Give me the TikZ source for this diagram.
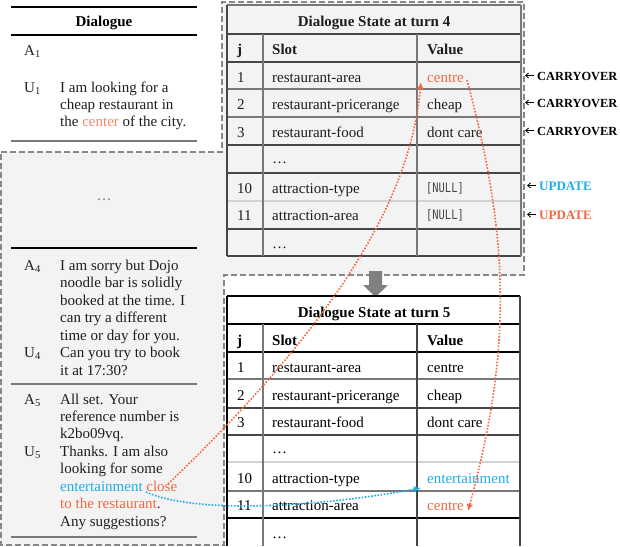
\documentclass[tikz,border=0pt]{standalone}
\usepackage{fontspec}
\setmainfont{Liberation Serif}
\newfontfamily\monof[FakeStretch=0.8]{DejaVu Sans Mono}
\usetikzlibrary{arrows.meta,calc}
\definecolor{bgray}{RGB}{243,243,243}
\definecolor{dashgray}{RGB}{135,135,135}
\definecolor{txtc}{RGB}{30,30,30}
\definecolor{orng}{RGB}{242,105,65}
\definecolor{lorng}{RGB}{245,135,108}
\definecolor{blu}{RGB}{30,175,230}
\definecolor{lnA}{RGB}{70,70,70}
\definecolor{lnB}{RGB}{120,120,120}
\definecolor{lnC}{RGB}{210,210,210}
\definecolor{bigarrow}{RGB}{128,128,128}
\tikzset{
  tx/.style={inner sep=0pt, anchor=base west, font=\fontsize{15}{17}\selectfont, text=txtc},
  txb/.style={inner sep=0pt, anchor=base west, font=\fontsize{15}{17}\selectfont\bfseries, text=black},
  lab/.style={inner sep=0pt, anchor=base west, font=\fontsize{13}{15}\selectfont\bfseries},
  labco/.style={inner sep=0pt, anchor=base west, font=\fontsize{12.4}{15}\selectfont\bfseries},
  nullv/.style={inner sep=0pt, anchor=base west, font=\monof\fontsize{13}{15}\selectfont, text=lnA},
  rowline/.style={line width=1.1pt},
  lblarrow/.style={line width=0.8pt, -{Straight Barb[length=3pt,width=5pt]}},
  orarrow/.style={draw=orng, line width=1.6pt, dash pattern=on 1.6pt off 1.6pt, -{Latex[length=7pt,width=6.5pt]}},
  blarrow/.style={draw=blu, line width=1.6pt, dash pattern=on 1.6pt off 1.6pt, -{Latex[length=7pt,width=6.5pt]}},
}
\begin{document}
\begin{tikzpicture}[x=1pt,y=-1pt]
\useasboundingbox (0,0) rectangle (620,546);
\fill[white] (0,0) rectangle (620,546);
% gray dashed region
\filldraw[fill=bgray, draw=dashgray, line width=1.8pt, dash pattern=on 6pt off 3pt]
  (1,152) -- (222,152) -- (222,2) -- (524,2) -- (524,275) -- (224,275) -- (224,545) -- (1,545) -- cycle;

% ---------- Dialogue (top) ----------
\draw[black, line width=1.5pt] (11,7) -- (197,7);
\node[txb, anchor=base] (dtitle) at (104,26) {Dialogue};
\draw[black, line width=1.1pt] (11,35) -- (197,35);
\node[tx] (a1) at (24,55) {A\textsubscript{1}};
\node[tx] (u1) at (24,92) {U\textsubscript{1}};
\node[tx] (u1l1) at (60,92) {I am looking for a};
\node[tx] (u1l2) at (60,109) {cheap restaurant in};
\node[tx] (u1l3) at (60,126) {the \textcolor{lorng}{center} of the city.};
\draw[lnB, line width=1.1pt] (11,141) -- (197,141);

% ---------- Dialogue (bottom) ----------
\node[tx, anchor=base, text=lnB] (ddots) at (104,200) {\ldots};
\draw[black, line width=1.1pt] (11,248) -- (197,248);
\node[tx] (a4) at (24,270) {A\textsubscript{4}};
\node[tx] (a4l1) at (60,270) {I am sorry but Dojo};
\node[tx] (a4l2) at (60,287.5) {noodle bar is solidly};
\node[tx] (a4l3) at (60,305) {booked at the time. I};
\node[tx] (a4l4) at (60,322.5) {can try a different};
\node[tx] (a4l5) at (60,340) {time or day for you.};
\node[tx] (u4) at (24,357) {U\textsubscript{4}};
\node[tx] (u4l1) at (60,357) {Can you try to book};
\node[tx] (u4l2) at (60,375) {it at 17:30?};
\draw[lnB, line width=1.1pt] (11,384) -- (197,384);
\node[tx] (a5) at (24,404) {A\textsubscript{5}};
\node[tx] (a5l1) at (60,404) {All set. Your};
\node[tx] (a5l2) at (60,421) {reference number is};
\node[tx] (a5l3) at (60,438) {k2bo09vq.};
\node[tx] (u5) at (24,456) {U\textsubscript{5}};
\node[tx] (u5l1) at (60,456) {Thanks. I am also};
\node[tx] (u5l2) at (60,473) {looking for some};
\node[tx] (u5l3) at (60,491) {\textcolor{blu}{entertainment} \textcolor{orng}{close}};
\node[tx] (u5l4) at (60,508.5) {\textcolor{orng}{to the restaurant}.};
\node[tx] (u5l5) at (60,526) {Any suggestions?};
\draw[lnB, line width=1.1pt] (11,537) -- (197,537);

% ---------- Dialogue state at turn 4 ----------
\draw[lnB, rowline] (227,5) -- (521,5);
\foreach \yy/\cc in {34/lnA,62/lnA,89/lnB,117/lnB,145/lnA,173/lnA,201/lnC,229/lnA,256/lnA}
  \draw[\cc, rowline] (227,\yy) -- (521,\yy);
\draw[lnA, rowline] (227,5) -- (227,256);
\draw[lnB, rowline] (521,5) -- (521,256);
\draw[lnB, rowline] (263,34) -- (263,256);
\draw[lnB, rowline] (417,34) -- (417,256);
\node[txb, anchor=base, text=txtc] (t4title) at (374,26) {Dialogue State at turn 4};
\node[txb, text=txtc] (t4hj) at (237,54) {j};
\node[txb, text=txtc] (t4hs) at (272,54) {Slot};
\node[txb, text=txtc] (t4hv) at (427,54) {Value};
\node[tx] (t4j1) at (237,82) {1};
\node[tx] (t4s1) at (272,82) {restaurant-area};
\node[tx, text=orng] (t4v1) at (427,82) {centre};
\node[tx] (t4j2) at (237,109) {2};
\node[tx] (t4s2) at (272,109) {restaurant-pricerange};
\node[tx] (t4v2) at (427,109) {cheap};
\node[tx] (t4j3) at (237,137) {3};
\node[tx] (t4s3) at (272,137) {restaurant-food};
\node[tx] (t4v3) at (427,137) {dont care};
\node[tx] (t4sd1) at (272,163) {\ldots};
\node[tx] (t4j10) at (237,193) {10};
\node[tx] (t4s10) at (272,193) {attraction-type};
\node[nullv] (t4v10) at (426,192) {[NULL]};
\node[tx] (t4j11) at (237,220) {11};
\node[tx] (t4s11) at (272,220) {attraction-area};
\node[nullv] (t4v11) at (426,219) {[NULL]};
\node[tx] (t4sd2) at (272,248) {\ldots};

% labels on the right
\node[labco] (co1) at (537,80) {CARRYOVER};
\node[labco] (co2) at (537,107) {CARRYOVER};
\node[labco] (co3) at (537,135) {CARRYOVER};
\node[lab, text=blu] (up1) at (539,190) {UPDATE};
\node[lab, text=orng] (up2) at (539,219) {UPDATE};
\foreach \n in {co1,co2,co3,up1,up2}
  \draw[lblarrow] ($(\n.base west)+(-3,-4.5)$) -- ($(\n.base west)+(-12,-4.5)$);

% ---------- big gray arrow ----------
\fill[bigarrow] (369,271) -- (382,271) -- (382,285) -- (388,285) -- (375.5,297) -- (363,285) -- (369,285) -- cycle;

% ---------- Dialogue state at turn 5 ----------
\draw[black, line width=1.2pt] (227,296) -- (520,296);
\draw[black, line width=2pt] (227,324) -- (520,324);
\foreach \yy/\cc in {352/black,379/lnB,408/lnA,435/lnA,462/lnC,491/lnB,518/black}
  \draw[\cc, rowline] (227,\yy) -- (520,\yy);
\draw[black, line width=1.2pt] (227,296) -- (227,546);
\draw[lnA, rowline] (520,296) -- (520,546);
\draw[lnB, rowline] (263,324) -- (263,546);
\draw[lnA, rowline] (417,324) -- (417,546);
\node[txb, anchor=base] (t5title) at (374,317) {Dialogue State at turn 5};
\node[txb] (t5hj) at (237,345) {j};
\node[txb] (t5hs) at (272,345) {Slot};
\node[txb] (t5hv) at (427,345) {Value};
\node[tx, text=black] (t5j1) at (237,372) {1};
\node[tx, text=black] (t5s1) at (272,372) {restaurant-area};
\node[tx, text=black] (t5v1) at (427,372) {centre};
\node[tx, text=black] (t5j2) at (237,400) {2};
\node[tx, text=black] (t5s2) at (272,400) {restaurant-pricerange};
\node[tx, text=black] (t5v2) at (427,400) {cheap};
\node[tx, text=black] (t5j3) at (237,427) {3};
\node[tx, text=black] (t5s3) at (272,427) {restaurant-food};
\node[tx, text=black] (t5v3) at (427,427) {dont care};
\node[tx, text=black] (t5sd1) at (272,453) {\ldots};
\node[tx, text=black] (t5j10) at (237,483) {10};
\node[tx, text=black] (t5s10) at (272,483) {attraction-type};
\node[tx, text=blu] (t5v10) at (427,483) {entertainment};
\node[tx, text=black] (t5j11) at (237,510) {11};
\node[tx, text=black] (t5s11) at (272,510) {attraction-area};
\node[tx, text=orng] (t5v11) at (427,510) {centre};
\node[tx, text=black] (t5sd2) at (272,538) {\ldots};

% ---------- dotted arrows ----------
\coordinate (closeTop) at (168,484);
\coordinate (c4in) at (421,82);
\coordinate (c4out) at (467,80);
\coordinate (c5in) at (468,511);
\coordinate (entEnd) at (146,492);
\coordinate (ent5in) at (421,488);
\draw[orarrow] (closeTop) .. controls (360,300) and (412,180) .. (c4in);
\draw[orarrow] (c4out) .. controls (511,244) and (511,352) .. (c5in);
\draw[blarrow] (entEnd) .. controls (190,512) and (300,510) .. (ent5in);
\end{tikzpicture}
\end{document}
